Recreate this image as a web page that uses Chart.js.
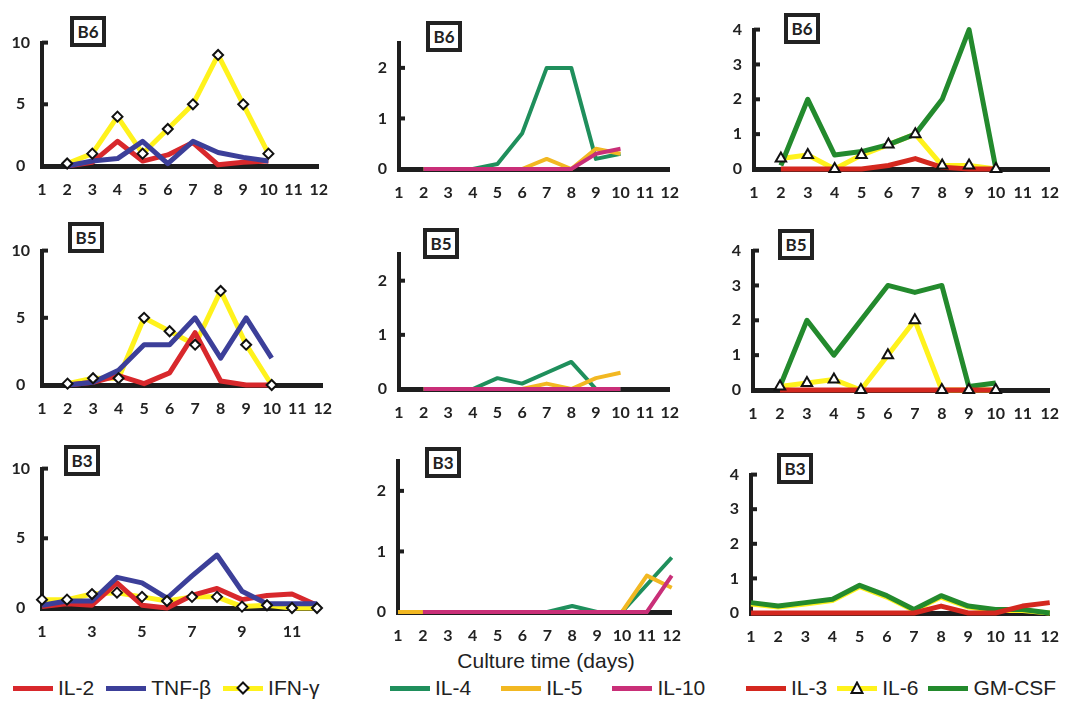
<!DOCTYPE html>
<html>
<head>
<meta charset="utf-8">
<style>
  body { margin: 0; width: 1085px; height: 712px; background: #fff; position: relative; overflow: hidden; }
  canvas { position: absolute; }
  .tag { position: absolute; box-sizing: border-box; width: 36px; height: 31px; border: 4px solid #222; background: #fff;
         font: bold 17px Lato, "DejaVu Sans", sans-serif; color: #222; text-align: center; line-height: 23px; }
  .axis-title { position: absolute; left: 436px; top: 649px; width: 220px; text-align: center;
                font: 21px "Liberation Sans", Arial, sans-serif; color: #222; }
  .legend { position: absolute; top: 676px; display: flex; align-items: center;
            font: 21px "Liberation Sans", Arial, sans-serif; color: #222; }
  .item { display: flex; align-items: center; }
  .sw { position: relative; width: 40px; height: 5px; margin-right: 5px; }
  .mk { position: absolute; left: 50%; top: 50%; transform: translate(-50%, -50%); }
</style>
</head>
<body>
<div class="axis-title">Culture time (days)</div>

<script src="https://cdn.jsdelivr.net/npm/chart.js"></script>
<script>
  const days = [1, 2, 3, 4, 5, 6, 7, 8, 9, 10, 11, 12];

  // B6
  const b6Il2 = [null, 0, 0.3, 2, 0.4, 0.9, 1.9, 0.1, 0.3, 0.4, null, null];
  const b6Tnf = [null, 0, 0.4, 0.6, 2, 0.2, 2, 1.1, 0.7, 0.4, null, null];
  const b6Ifn = [null, 0.2, 1, 4, 1, 3, 5, 9, 5, 1, null, null];
  const b6Il4 = [null, 0, 0, 0, 0.1, 0.7, 2, 2, 0.2, 0.3, null, null];
  const b6Il5 = [null, 0, 0, 0, 0, 0, 0.2, 0, 0.4, 0.3, null, null];
  const b6Il10 = [null, 0, 0, 0, 0, 0, 0, 0, 0.3, 0.4, null, null];
  const b6Il3 = [null, 0, 0, 0, 0, 0.1, 0.3, 0.05, 0, 0, null, null];
  const b6Il6 = [null, 0.3, 0.4, 0, 0.4, 0.7, 1, 0.1, 0.1, 0, null, null];
  const b6Gm = [null, 0.1, 2, 0.4, 0.5, 0.7, 1, 2, 4, 0, null, null];

  // B5
  const b5Il2 = [null, 0, 0.2, 0.7, 0.1, 0.9, 3.9, 0.3, 0, 0, null, null];
  const b5Tnf = [null, 0, 0.2, 1.1, 3, 3, 5, 2, 5, 2, null, null];
  const b5Ifn = [null, 0.1, 0.5, 0.5, 5, 4, 3, 7, 3, 0, null, null];
  const b5Il4 = [null, 0, 0, 0, 0.2, 0.1, 0.3, 0.5, 0, 0, null, null];
  const b5Il5 = [null, 0, 0, 0, 0, 0, 0.1, 0, 0.2, 0.3, null, null];
  const b5Il10 = [null, 0, 0, 0, 0, 0, 0, 0, 0, 0, null, null];
  const b5Il3 = [null, 0, 0, 0, 0, 0, 0, 0, 0, 0, null, null];
  const b5Il6 = [null, 0.1, 0.2, 0.3, 0, 1, 2, 0, 0, 0, null, null];
  const b5Gm = [null, 0.1, 2, 1, 2, 3, 2.8, 3, 0.1, 0.2, null, null];

  // B3
  const b3Il2 = [0.1, 0.3, 0.2, 1.8, 0.2, 0, 0.9, 1.4, 0.6, 0.9, 1, 0.2];
  const b3Tnf = [0.2, 0.5, 0.5, 2.2, 1.8, 0.7, 2.3, 3.8, 1.2, 0.3, 0.3, 0.3];
  const b3Ifn = [0.6, 0.6, 1, 1.1, 0.8, 0.5, 0.8, 0.8, 0.1, 0.2, 0, 0];
  const b3Il4 = [null, 0, 0, 0, 0, 0, 0, 0.1, 0, 0, 0.45, 0.9];
  const b3Il5 = [0, 0, 0, 0, 0, 0, 0, 0, 0, 0, 0.6, 0.4];
  const b3Il10 = [null, 0, 0, 0, 0, 0, 0, 0, 0, 0, 0, 0.6];
  const b3Il3 = [0, 0, 0, 0, 0, 0, 0, 0.2, 0, 0, 0.2, 0.3];
  const b3Il6 = [0.26, 0.17, 0.26, 0.36, 0.76, 0.46, 0.07, 0.46, 0.17, 0.07, 0.07, 0];
  const b3Gm = [0.3, 0.2, 0.3, 0.4, 0.8, 0.5, 0.1, 0.5, 0.2, 0.1, 0.1, 0];

  const yTicks = [[0, 5, 10], [0, 1, 2], [0, 1, 2, 3, 4]];
  const yMax = [10, 2.5, 4];
  const oddDays = [1, 3, 5, 7, 9, 11];

  // series look per column: name, colour, line width, draw order, marker
  const styles = [
    [
      { name: "IL-2", color: "#d8282c", width: 5, order: 2 },
      { name: "TNF-β", color: "#3c3f99", width: 5, order: 1 },
      { name: "IFN-γ", color: "#fff21c", width: 5, order: 3, marker: "rectRot" }
    ],
    [
      { name: "IL-4", color: "#1f8f5c", width: 4, order: 3 },
      { name: "IL-5", color: "#f2b822", width: 4, order: 2 },
      { name: "IL-10", color: "#c92f78", width: 4, order: 1 }
    ],
    [
      { name: "IL-3", color: "#d4281f", width: 5, order: 1 },
      { name: "IL-6", color: "#fff21c", width: 5, order: 3, marker: "triangle" },
      { name: "GM-CSF", color: "#238a2d", width: 5, order: 2 }
    ]
  ];

  // chart area of each panel: left (day 1), right (day 12), top (y max), bottom (y 0); tag box position
  const panels = [
    { tag: "B6", col: 0, l: 42, r: 332, t: 35, b: 166, tx: 70, ty: 16, data: [b6Il2, b6Tnf, b6Ifn] },
    { tag: "B6", col: 1, l: 399, r: 683, t: 35, b: 169, tx: 426, ty: 21, data: [b6Il4, b6Il5, b6Il10] },
    { tag: "B6", col: 2, l: 754, r: 1063, t: 22, b: 169, tx: 784, ty: 13, data: [b6Il3, b6Il6, b6Gm] },
    { tag: "B5", col: 0, l: 42, r: 336, t: 243, b: 385, tx: 68, ty: 222, data: [b5Il2, b5Tnf, b5Ifn] },
    { tag: "B5", col: 1, l: 399, r: 683, t: 246, b: 389, tx: 423, ty: 228, data: [b5Il4, b5Il5, b5Il10] },
    { tag: "B5", col: 2, l: 753, r: 1063, t: 243, b: 390, tx: 778, ty: 229, data: [b5Il3, b5Il6, b5Gm] },
    { tag: "B3", col: 0, l: 42, r: 317, t: 461, b: 608, tx: 64, ty: 445, data: [b3Il2, b3Tnf, b3Ifn], odd: true },
    { tag: "B3", col: 1, l: 398, r: 685, t: 453, b: 612, tx: 425, ty: 447, data: [b3Il4, b3Il5, b3Il10] },
    { tag: "B3", col: 2, l: 751, r: 1063, t: 467, b: 613, tx: 777, ty: 453, data: [b3Il3, b3Il6, b3Gm], noMarks: true }
  ];

  const ink = "#1e1e1e";
  const tickFont = { family: "Lato, 'DejaVu Sans', sans-serif", size: 16, weight: "bold" };

  // little tick stubs on the inner side of the y axis
  const innerTicks = {
    id: "innerTicks",
    afterDraw(chart) {
      const s = chart.scales.y, ctx = chart.ctx;
      ctx.save();
      ctx.fillStyle = ink;
      s.ticks.forEach((t) => {
        if (t.value === 0) return;
        const y = s.getPixelForValue(t.value);
        ctx.fillRect(s.right, y - 2, 6, 4);
      });
      ctx.restore();
    }
  };

  const WY = 36, PT = 14, PR = 10, HX = 36;

  panels.forEach((p) => {
    const cv = document.createElement("canvas");
    const w = p.r - p.l + WY + PR;
    const h = p.b - p.t + PT + HX;
    cv.width = w;
    cv.height = h;
    cv.style.left = p.l - WY + "px";
    cv.style.top = p.t - PT + "px";
    document.body.appendChild(cv);

    const tag = document.createElement("div");
    tag.className = "tag";
    tag.textContent = p.tag;
    tag.style.left = p.tx + "px";
    tag.style.top = p.ty + "px";
    document.body.appendChild(tag);

    const datasets = [];
    styles[p.col].forEach((st, i) => {
      datasets.push({
        label: st.name,
        data: p.data[i],
        borderColor: st.color,
        borderWidth: st.width,
        pointRadius: 0,
        order: st.order,
        clip: false
      });
      if (st.marker && !p.noMarks) {
        datasets.push({
          label: st.name + " markers",
          data: p.data[i],
          showLine: false,
          pointStyle: st.marker,
          pointRadius: st.marker === "triangle" ? 6 : 5,
          pointBackgroundColor: "#fff",
          pointBorderColor: "#111",
          pointBorderWidth: 2,
          order: 0,
          clip: false
        });
      }
    });

    new Chart(cv, {
      type: "line",
      data: { labels: days, datasets: datasets },
      options: {
        responsive: false,
        animation: false,
        layout: { padding: { top: PT, right: PR, left: 0, bottom: 0 } },
        elements: { line: { tension: 0, borderJoinStyle: "round" } },
        plugins: { legend: { display: false }, tooltip: { enabled: false } },
        scales: {
          x: {
            offset: false,
            grid: { display: false, drawTicks: false },
            border: { display: true, color: ink, width: 5 },
            ticks: {
              autoSkip: false, maxRotation: 0, padding: 14, color: "#222", font: tickFont,
              callback: (v, i) => (p.odd && !oddDays.includes(days[i]) ? null : days[i])
            },
            afterFit: (s) => { s.height = HX; }
          },
          y: {
            min: 0,
            max: yMax[p.col],
            grid: { display: false, drawTicks: false },
            border: { display: true, color: ink, width: 4 },
            ticks: { padding: 12, crossAlign: "center", color: "#222", font: tickFont },
            afterBuildTicks: (s) => { s.ticks = yTicks[p.col].map((v) => ({ value: v })); },
            afterFit: (s) => { s.width = WY; }
          }
        }
      },
      plugins: [innerTicks]
    });
  });

  // legends, one per column
  const legendLeft = [13, 390, 746];
  const legendGap = [12, 30, 10];
  const markerSvg = {
    rectRot: '<svg width="14" height="14" viewBox="0 0 14 14"><polygon points="7,1.5 12.5,7 7,12.5 1.5,7" fill="#fff" stroke="#111" stroke-width="2"/></svg>',
    triangle: '<svg width="14" height="14" viewBox="0 0 14 14"><polygon points="7,1.5 12.5,12 1.5,12" fill="#fff" stroke="#111" stroke-width="2"/></svg>'
  };
  styles.forEach((group, c) => {
    const box = document.createElement("div");
    box.className = "legend";
    box.style.left = legendLeft[c] + "px";
    group.forEach((st) => {
      const item = document.createElement("div");
      item.className = "item";
      item.style.marginRight = legendGap[c] + "px";
      const sw = document.createElement("div");
      sw.className = "sw";
      sw.style.background = st.color;
      if (st.marker) {
        const mk = document.createElement("div");
        mk.className = "mk";
        mk.style.lineHeight = "0";
        mk.innerHTML = markerSvg[st.marker];
        sw.appendChild(mk);
      }
      const tx = document.createElement("span");
      tx.textContent = st.name;
      item.appendChild(sw);
      item.appendChild(tx);
      box.appendChild(item);
    });
    document.body.appendChild(box);
  });
</script>
</body>
</html>
